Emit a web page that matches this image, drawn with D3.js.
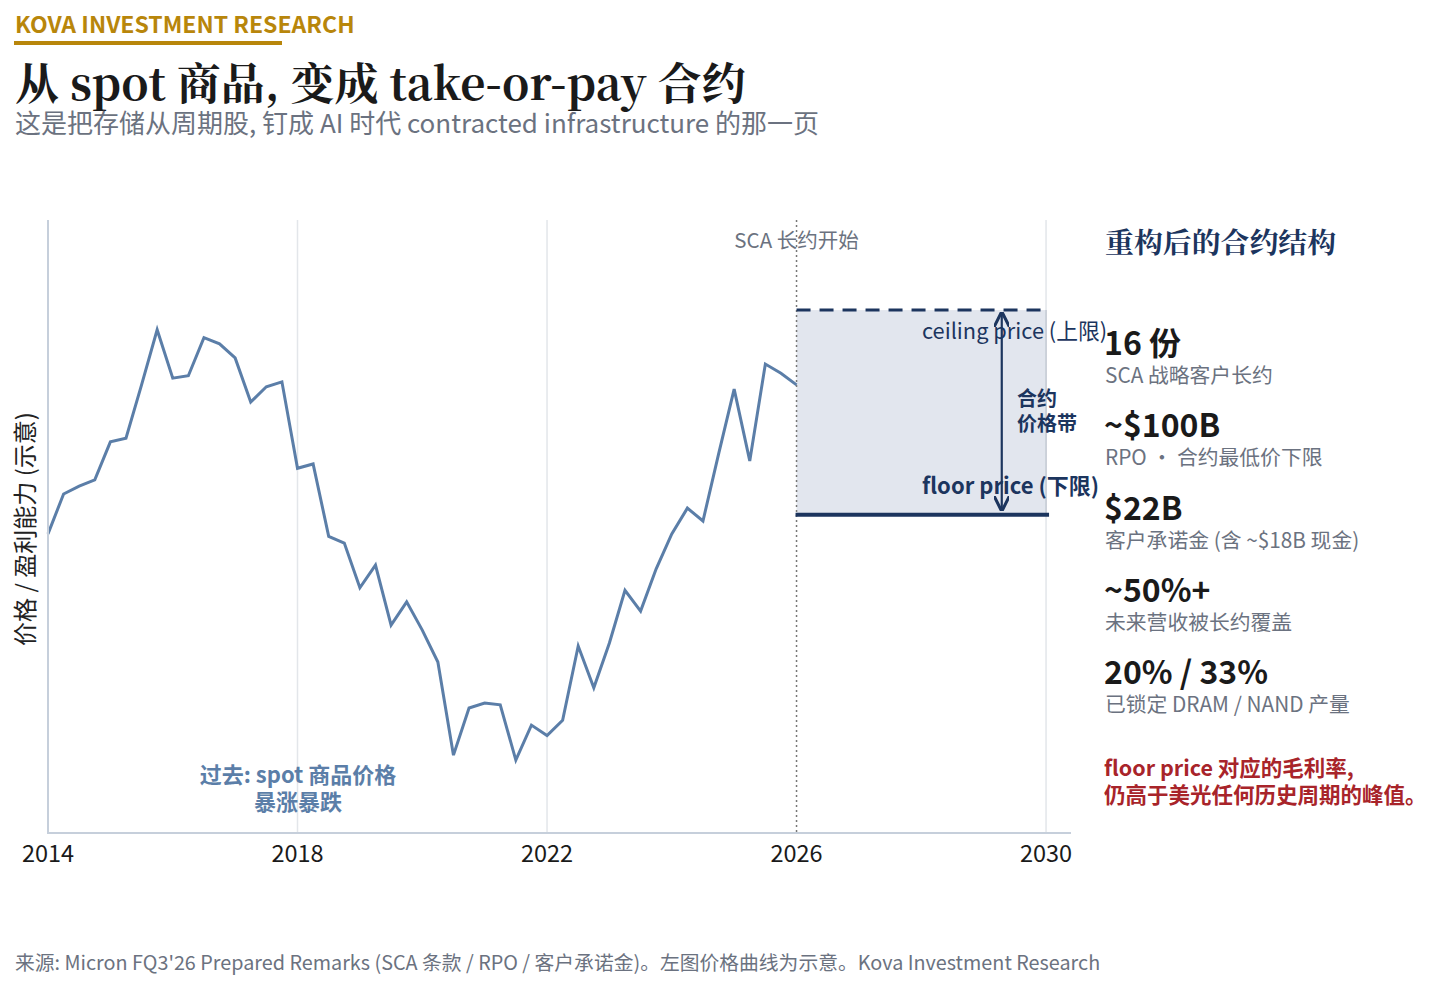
<!DOCTYPE html>
<html><head><meta charset="utf-8">
<script src="https://cdn.jsdelivr.net/npm/d3@7"></script>
<style>
body{margin:0;background:#fff;}
svg{display:block;font-family:"Noto Sans CJK SC","Noto Sans",sans-serif;}
</style></head><body>
<svg id="c" width="1443" height="989"></svg>
<script>
// ---- data ----
const startYear = 2014;
const priceIndex = [48.8,55.3,56.6,57.6,63.8,64.4,73.1,82.1,74.2,74.6,80.8,79.8,77.5,70.3,72.8,73.6,
  59.5,60.2,48.4,47.3,40.0,43.7,33.9,37.7,33.1,27.9,12.7,20.4,21.2,20.9,11.9,17.6,
  15.9,18.4,30.5,23.7,31.0,39.6,36.2,43.1,48.8,53.0,50.9,61.8,72.4,60.7,76.5,75.0,73.1];
const xTicks = [2014,2018,2022,2026,2030];
const bandStart = 2026, bandEnd = 2030;
const ceilingVal = 85.3, floorVal = 51.9;
const kpiValues = ["16 份","~$100B","$22B","~50%+","20% / 33%"];
const kpiLabels = ["SCA 战略客户长约","RPO · 合约最低价下限","客户承诺金 (含 ~$18B 现金)","未来营收被长约覆盖","已锁定 DRAM / NAND 产量"];

const svg = d3.select("#c");
const navy = "#1c355e", lineC = "#5b7ea8", gray = "#6b7280";

// header
svg.append("text").attr("x",15).attr("y",33).attr("font-size",23).attr("font-weight",700)
  .attr("fill","#b8860b").text("KOVA INVESTMENT RESEARCH");
svg.append("rect").attr("x",14).attr("y",41).attr("width",268).attr("height",4).attr("fill","#b8860b");
svg.append("text").attr("x",15).attr("y",100).attr("font-size",44).attr("font-weight",700)
  .attr("font-family",'"Noto Serif CJK SC","Liberation Serif","DejaVu Serif",serif')
  .attr("fill","#1a1a1a").text("从 spot 商品, 变成 take-or-pay 合约");
svg.append("text").attr("x",15).attr("y",133).attr("font-size",26).attr("fill",gray)
  .text("这是把存储从周期股, 钉成 AI 时代 contracted infrastructure 的那一页");

// scales
const x = d3.scaleLinear().domain([2014,2030.4]).range([48,1071]);
const y = d3.scaleLinear().domain([0,100]).range([833,220]);

// gridlines
const g = svg.append("g");
g.selectAll("line.grid").data(xTicks.filter(d=>d!==2014 && d!==2026)).join("line")
  .attr("x1",d=>x(d)).attr("x2",d=>x(d)).attr("y1",220).attr("y2",833)
  .attr("stroke","#e3e6ea").attr("stroke-width",1.5);

// band
g.append("rect").attr("x",x(bandStart)).attr("width",x(bandEnd)-x(bandStart))
  .attr("y",y(ceilingVal)).attr("height",y(floorVal)-y(ceilingVal)).attr("fill","#e2e6ee");
g.append("line").attr("x1",x(bandEnd)).attr("x2",x(bandEnd)).attr("y1",y(ceilingVal)).attr("y2",y(floorVal))
  .attr("stroke","#c4cad3").attr("stroke-width",1.5);

// 2026 dotted line
g.append("line").attr("x1",x(2026)).attr("x2",x(2026)).attr("y1",220).attr("y2",833)
  .attr("stroke","#777").attr("stroke-width",1.5).attr("stroke-dasharray","2,3");

// ceiling / floor
g.append("line").attr("x1",x(bandStart)).attr("x2",x(bandEnd)).attr("y1",y(ceilingVal)).attr("y2",y(ceilingVal))
  .attr("stroke",navy).attr("stroke-width",3).attr("stroke-dasharray","14,9");
g.append("line").attr("x1",x(bandStart)-1).attr("x2",x(bandEnd)+3).attr("y1",y(floorVal)).attr("y2",y(floorVal))
  .attr("stroke",navy).attr("stroke-width",4);

// arrow
const ax = x(2029.29);
svg.append("defs").html(`<marker id="ah" viewBox="0 0 10 10" refX="9" refY="5" markerWidth="7" markerHeight="7" orient="auto-start-reverse"><path d="M0,0 L10,5 L0,10" fill="none" stroke="${navy}" stroke-width="2"/></marker>`);
g.append("line").attr("x1",ax).attr("x2",ax).attr("y1",y(ceilingVal)+3).attr("y2",y(floorVal)-5)
  .attr("stroke",navy).attr("stroke-width",2.2).attr("marker-start","url(#ah)").attr("marker-end","url(#ah)");

// line
const line = d3.line().x((d,i)=>x(startYear+i*0.25)).y(d=>y(d));
g.append("path").datum(priceIndex).attr("d",line).attr("fill","none")
  .attr("stroke",lineC).attr("stroke-width",3).attr("stroke-linejoin","miter");

// axes
g.append("line").attr("x1",48).attr("x2",48).attr("y1",220).attr("y2",833).attr("stroke","#c6cfdb").attr("stroke-width",2);
g.append("line").attr("x1",47).attr("x2",1071).attr("y1",833).attr("y2",833).attr("stroke","#c6cfdb").attr("stroke-width",2);
g.selectAll("text.tick").data(xTicks).join("text").attr("x",d=>x(d)).attr("y",862)
  .attr("text-anchor","middle").attr("font-size",23.5).attr("fill","#1a1a1a").text(d=>d);

// labels
svg.append("text").attr("transform","translate(34,529) rotate(-90)").attr("text-anchor","middle")
  .attr("font-size",24).attr("fill","#222").text("价格 / 盈利能力 (示意)");
svg.append("text").attr("x",x(2026)).attr("y",248).attr("text-anchor","middle").attr("font-size",20.5)
  .attr("fill",gray).text("SCA 长约开始");
svg.append("text").attr("x",922).attr("y",339).attr("font-size",21.8).attr("fill",navy).text("ceiling price (上限)");
svg.append("text").attr("x",922).attr("y",494).attr("font-size",22).attr("font-weight",700).attr("fill",navy).text("floor price (下限)");
svg.append("text").attr("x",1017).attr("y",406).attr("font-size",20).attr("font-weight",700).attr("fill",navy).text("合约");
svg.append("text").attr("x",1017).attr("y",431).attr("font-size",20).attr("font-weight",700).attr("fill",navy).text("价格带");
svg.append("text").attr("x",298).attr("y",783).attr("text-anchor","middle").attr("font-size",22).attr("font-weight",700).attr("fill",lineC).text("过去: spot 商品价格");
svg.append("text").attr("x",298).attr("y",810).attr("text-anchor","middle").attr("font-size",22).attr("font-weight",700).attr("fill",lineC).text("暴涨暴跌");

// right panel
svg.append("text").attr("x",1105).attr("y",253).attr("font-size",28.9).attr("font-weight",700)
  .attr("font-family",'"Noto Serif CJK SC","Liberation Serif","DejaVu Serif",serif')
  .attr("fill",navy).text("重构后的合约结构");
const kg = svg.append("g");
kpiValues.forEach((v,i)=>{
  const by = 355 + i*82.3;
  kg.append("text").attr("x",1104).attr("y",by).attr("font-size",32).attr("font-weight",700).attr("fill","#1a1a1a").text(v);
  kg.append("text").attr("x",1105).attr("y",by+28).attr("font-size",20.8).attr("fill",gray).text(kpiLabels[i]);
});
svg.append("text").attr("x",1104).attr("y",776).attr("font-size",21.5).attr("font-weight",700).attr("fill","#a8242a").text("floor price 对应的毛利率,");
svg.append("text").attr("x",1104).attr("y",803).attr("font-size",21.5).attr("font-weight",700).attr("fill","#a8242a").text("仍高于美光任何历史周期的峰值。");

// footer
svg.append("text").attr("x",15).attr("y",970).attr("font-size",19.8).attr("fill",gray)
  .text("来源: Micron FQ3'26 Prepared Remarks (SCA 条款 / RPO / 客户承诺金)。左图价格曲线为示意。Kova Investment Research");
</script></body></html>
